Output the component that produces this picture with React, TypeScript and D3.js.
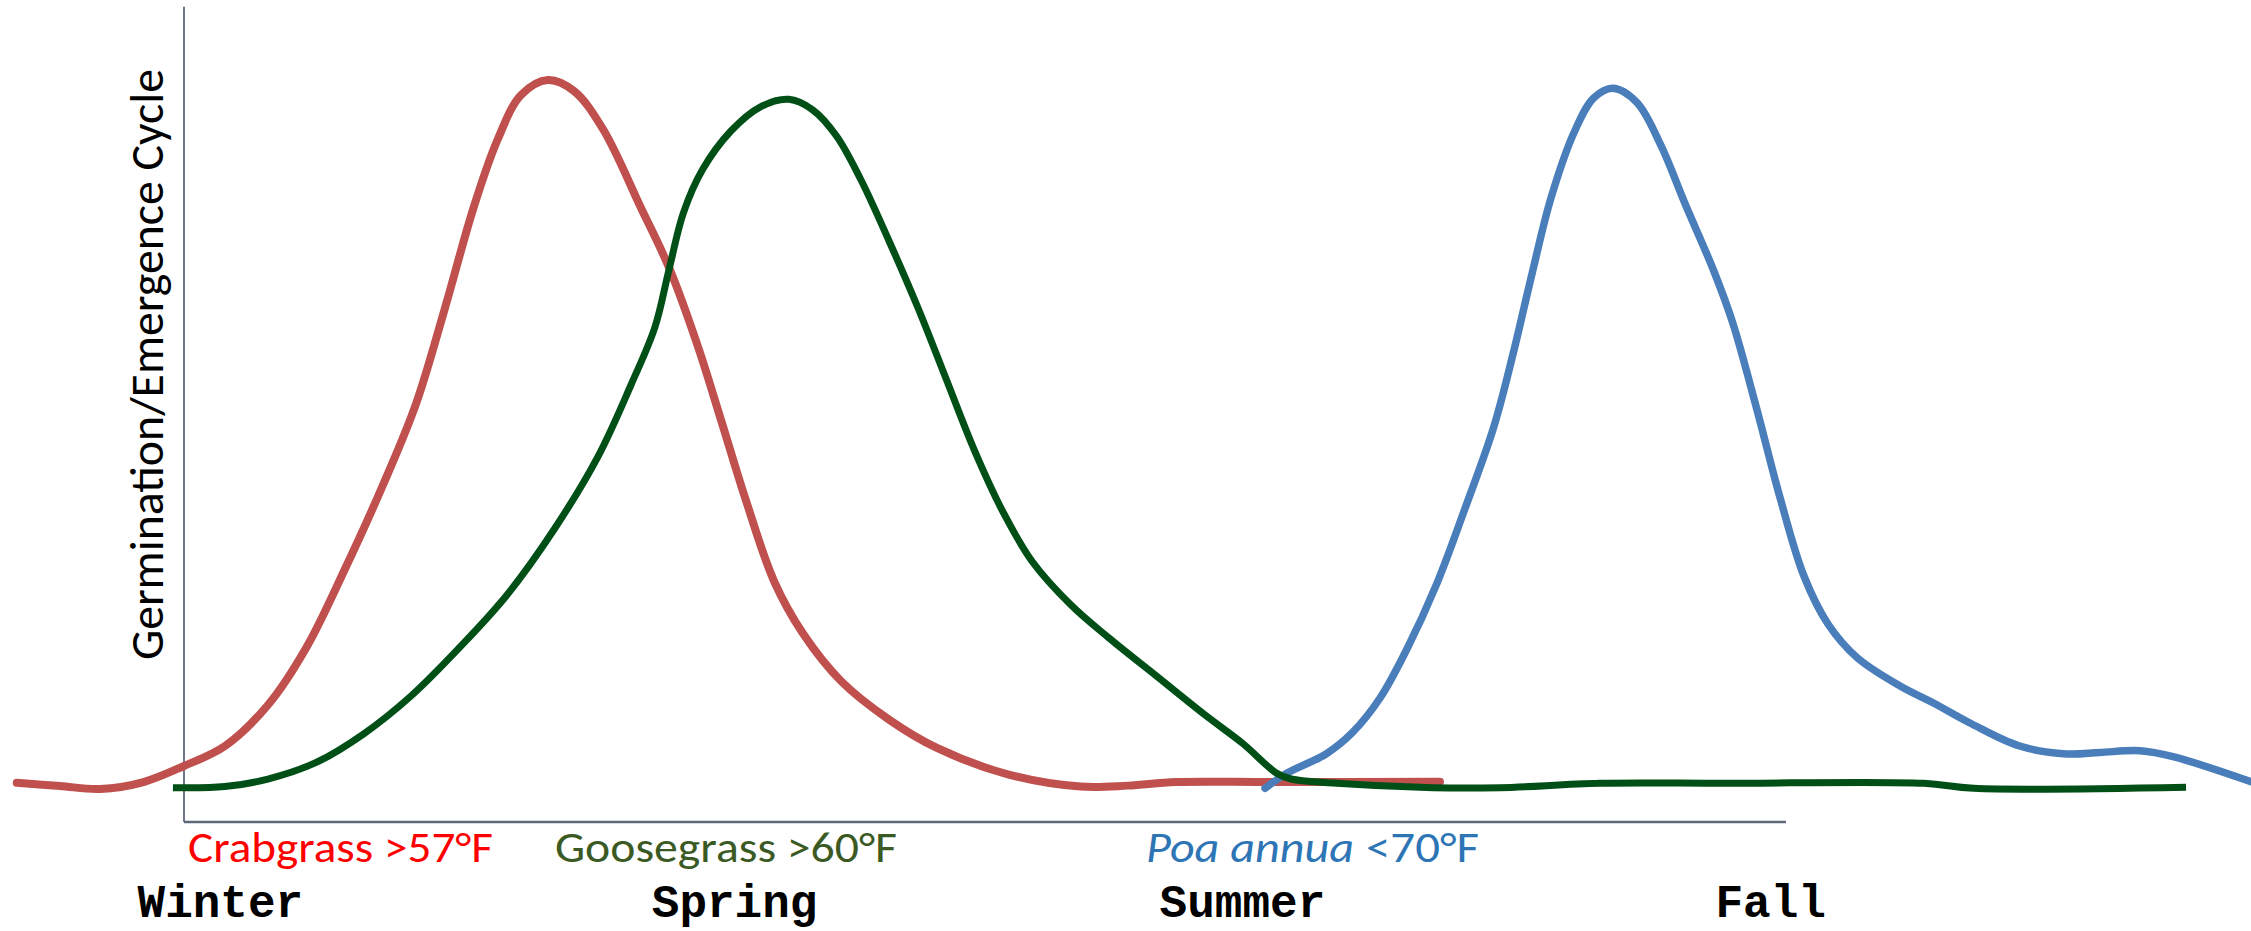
import React from "react";
import * as d3 from "d3";

// Relative time index (0 = left end of axis, 100 = right end) and relative emergence (0-100)
const crabgrass: [number, number][] = [
  [-10.44, 5.23], [-7.74, 4.8], [-5.24, 4.4], [-2.53, 5.33], [0, 7.47], [2.56, 10.13],
  [5.24, 15.6], [7.62, 23.2], [9.99, 33.47], [12.42, 44.93], [14.48, 55.73], [16.29, 68.53],
  [18.07, 81.87], [19.54, 90.8], [21.04, 96.93], [22.72, 98.93], [24.34, 97.47], [26.15, 92.4],
  [28.53, 81.87], [30.34, 73.6], [32.08, 63.4], [33.58, 53.2], [35.06, 42.99], [36.83, 32.13],
  [38.64, 25.13], [41.01, 18.8], [44.01, 13.65], [47.0, 9.87], [51.48, 6.32], [55.96, 4.72],
  [58.93, 4.85], [61.92, 5.33], [67.92, 5.33], [78.4, 5.37],
];

const goosegrass: [number, number][] = [
  [-0.69, 4.57], [2.55, 4.72], [5.24, 5.73], [8.22, 7.91], [11.2, 11.73], [14.17, 16.8],
  [17.17, 23.2], [20.16, 30.27], [23.16, 39.2], [25.84, 48.72], [27.9, 58.27], [29.4, 66.0],
  [30.27, 73.6], [31.18, 81.25], [32.37, 86.99], [34.14, 92.13], [35.96, 95.33], [37.75, 96.36],
  [39.24, 94.96], [40.73, 91.47], [42.23, 85.73], [44.01, 77.47], [45.82, 68.53], [47.6, 58.93],
  [49.38, 49.36], [51.19, 41.07], [52.97, 34.67], [55.37, 28.93], [57.74, 24.53], [60.74, 19.39],
  [63.72, 14.29], [66.1, 10.45], [68.21, 6.49], [69.1, 5.73], [71.72, 5.2], [77.97, 4.57],
  [82.15, 4.57], [88.39, 5.16], [96.16, 5.16], [108.6, 5.16], [111.71, 4.49], [124.97, 4.63],
];

const poaAnnua: [number, number][] = [
  [67.48, 4.49], [68.83, 6.49], [71.29, 9.07], [72.91, 11.87], [74.66, 16.53], [76.37, 23.2],
  [78.15, 31.51], [79.95, 41.73], [81.74, 52.55], [82.93, 62.13], [84.13, 72.96], [85.33, 83.2],
  [86.81, 92.13], [88.01, 96.56], [89.2, 97.83], [90.7, 95.92], [92.2, 90.17], [93.68, 82.53],
  [95.47, 73.6], [96.67, 66.59], [98.17, 55.11], [99.66, 42.99], [101.12, 32.8], [102.62, 26.4],
  [104.43, 21.93], [107.12, 18.13], [109.2, 15.87], [111.6, 13.07], [114.58, 10.13],
  [117.52, 9.07], [119.6, 9.27], [122.1, 9.5], [124.16, 8.71], [129.03, 5.37],
];

const seasons = ["Winter", "Spring", "Summer", "Fall"];
const seasonPos = [-2.9, 29.2, 60.9, 95.6];

const yAxisLabel = "Germination/Emergence Cycle";

export default function App() {
  const W = 2251;
  const H = 931;
  const x = d3.scaleLinear().domain([0, 100]).range([184, 1786]);
  const y = d3.scaleLinear().domain([0, 100]).range([822, 72]);
  const line = d3
    .line<[number, number]>()
    .x((d) => x(d[0]))
    .y((d) => y(d[1]))
    .curve(d3.curveCatmullRom.alpha(0.5));

  const calibri = "Carlito, Lato, 'Open Sans', sans-serif";
  const mono = "'Liberation Mono', 'Courier New', monospace";

  return (
    <div style={{ position: "absolute", left: 0, top: 0 }}>
      <svg width={W} height={H} style={{ display: "block", background: "#fff" }}>
        {/* axes */}
        <line x1={x(0)} x2={x(0)} y1={y(108.7)} y2={y(0)} stroke="#1f2d4d" strokeWidth={1.3} />
        <line x1={x(0)} x2={x(100)} y1={y(0)} y2={y(0)} stroke="#5d6878" strokeWidth={2.5} />

        {/* curves */}
        <path d={line(crabgrass) || ""} fill="none" stroke="#C0504D" strokeWidth={8} strokeLinecap="round" strokeLinejoin="round" />
        <path d={line(poaAnnua) || ""} fill="none" stroke="#4A7EBB" strokeWidth={7.5} strokeLinecap="round" strokeLinejoin="round" />
        <path d={line(goosegrass) || ""} fill="none" stroke="#004F16" strokeWidth={7} strokeLinecap="butt" strokeLinejoin="round" />

        {/* y axis label */}
        <text
          transform={`translate(163,660) rotate(-90)`}
          fontFamily={calibri}
          fontSize={47}
          fill="#000"
          textLength={591}
          lengthAdjust="spacingAndGlyphs"
        >
          {yAxisLabel}
        </text>

        {/* legend labels */}
        <text x={188} y={862} fontFamily={calibri} fontSize={44} fill="#FF0000" textLength={305} lengthAdjust="spacingAndGlyphs">
          Crabgrass &gt;57°F
        </text>
        <text x={555} y={862} fontFamily={calibri} fontSize={44} fill="#3B5A23" textLength={342} lengthAdjust="spacingAndGlyphs">
          Goosegrass &gt;60°F
        </text>
        <text x={1146} y={862} fontFamily={calibri} fontSize={44} fontStyle="italic" fill="#2E75B6" textLength={208} lengthAdjust="spacingAndGlyphs">
          Poa annua
        </text>
        <text x={1366} y={862} fontFamily={calibri} fontSize={44} fill="#2E75B6" textLength={113} lengthAdjust="spacingAndGlyphs">
          &lt;70°F
        </text>

        {/* seasons */}
        {seasons.map((s, i) => (
          <text key={s} x={x(seasonPos[i])} y={917} fontFamily={mono} fontWeight="bold" fontSize={46} fill="#000">
            {s}
          </text>
        ))}
      </svg>
    </div>
  );
}
